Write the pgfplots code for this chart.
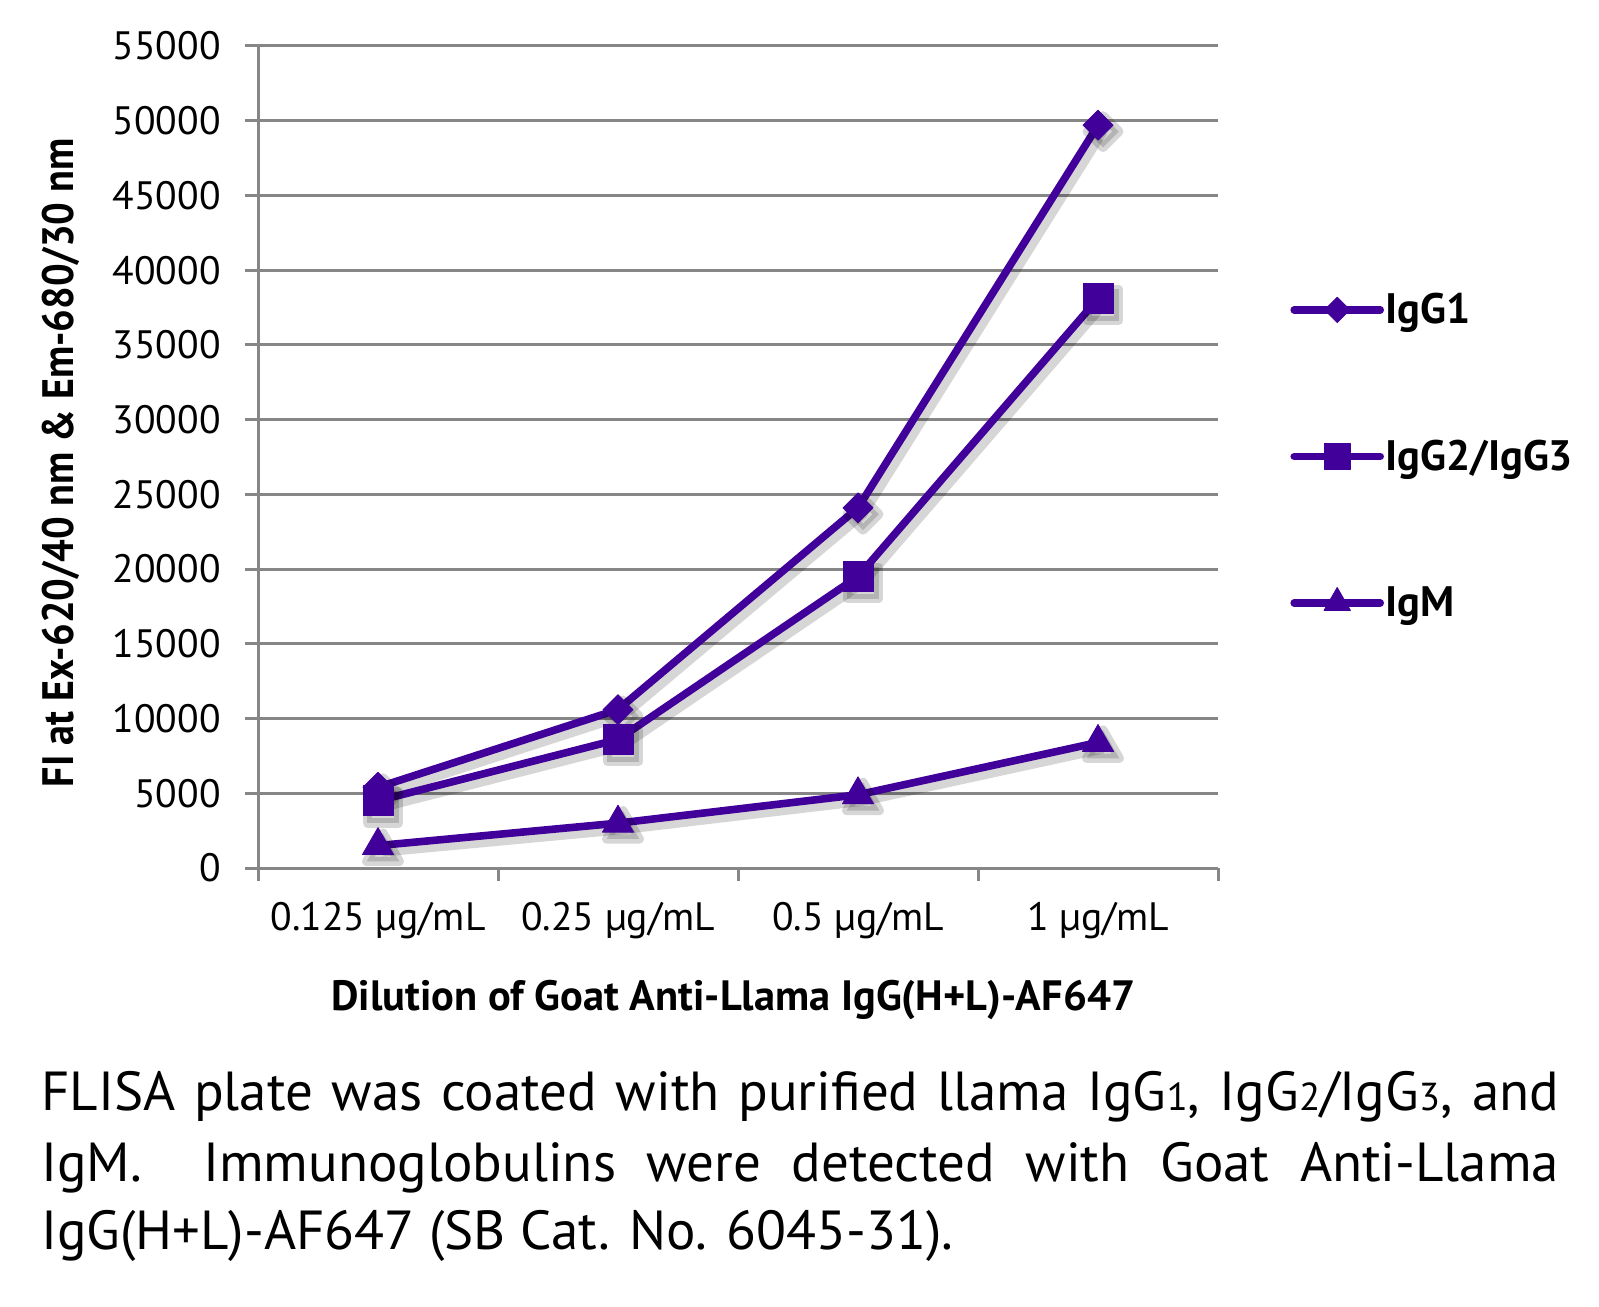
\documentclass[border=0pt]{standalone}
\usepackage{pgfplots}
\pgfplotsset{compat=1.18}
\usepackage{fontspec}
\setmainfont{PT Sans}
\definecolor{pur}{RGB}{64,0,153}
\definecolor{gridg}{RGB}{134,134,134}
\newcommand\sub[1]{{\fontsize{19.5}{20}\selectfont #1}}

\pgfplotstableread{
x igga iggb igm
0 5400 4500 1500
1 10600 8600 3000
2 24100 19500 4900
3 49700 38100 8400
}\datatab

\begin{document}
\begin{tikzpicture}[x=1pt,y=1pt]
\path[use as bounding box] (0,0) rectangle (799.5,653);
\begin{axis}[
  at={(129pt,219pt)}, anchor=south west,
  scale only axis, width=480pt, height=411pt,
  xmin=-0.5, xmax=3.5, ymin=0, ymax=55000,
  axis x line=bottom, axis y line=left,
  axis line style={-, draw=gridg, line width=1.5pt},
  xtick={0,1,2,3},
  xticklabels={0.125 µg/mL, 0.25 µg/mL, 0.5 µg/mL, 1 µg/mL},
  xtick style={draw=none},
  extra x ticks={-0.5,0.5,1.5,2.5,3.5},
  extra x tick labels={},
  extra x tick style={xtick style={draw=gridg, line width=1.5pt}},
  ytick={0,5000,...,55000},
  ytick style={draw=gridg, line width=1.5pt},
  tick align=outside, major tick length=6.5pt,
  ymajorgrids, major grid style={draw=gridg, line width=1.5pt},
  /pgf/number format/assume math mode=true,
  /pgf/number format/1000 sep={},
  scaled y ticks=false,
  yticklabel style={font=\fontsize{19.8}{21}\selectfont, anchor=east, inner sep=0pt, xshift=-12pt},
  xticklabel style={font=\fontsize{19.8}{21}\selectfont, anchor=center, inner sep=0pt, yshift=-20pt},
  ylabel={\scalebox{0.91}[1]{\bfseries FI at Ex-620/40 nm \& Em-680/30 nm}},
  ylabel style={at={(axis description cs:-0.205,0.493)}, anchor=center, font=\fontsize{22}{24}\selectfont},
  xlabel={\bfseries Dilution of Goat Anti-Llama IgG(H+L)-AF647},
  xlabel style={at={(axis description cs:0.495,-0.161)}, anchor=center, font=\fontsize{21.2}{23}\selectfont},
  clip=false,
  legend cell align=left,
  legend style={at={(axis description cs:1.075,0.501)}, anchor=west, draw=none, fill=none,
    font=\bfseries\fontsize{21.3}{22}\selectfont, row sep=55pt, inner sep=0pt,
    nodes={inner sep=0.8pt}},
  legend image code/.code={
    \draw[mark repeat=2,mark phase=2,#1,every mark/.append style={scale=0.85}]
      plot coordinates {(0pt,0pt) (21.5pt,0pt) (43pt,0pt)};
  },
]
% shadows
\addplot[forget plot, draw=black, opacity=0.16, line width=4.6pt, line join=round,
  xshift=2.5pt, yshift=-3.2pt, mark=square*, mark size=5.6pt,
  mark options={rotate=45, fill=black, draw=none}] table[x=x,y=igga]{\datatab};
\addplot[forget plot, draw=black, opacity=0.16, line width=4.6pt, line join=round,
  xshift=2.5pt, yshift=-3.2pt, mark=square*, mark size=7.9pt,
  mark options={fill=black, draw=none}] table[x=x,y=iggb]{\datatab};
\addplot[forget plot, draw=black, opacity=0.16, line width=4.6pt, line join=round,
  xshift=2.5pt, yshift=-3.2pt, mark=triangle*, mark size=9.4pt,
  mark options={fill=black, draw=none}] table[x=x,y=igm]{\datatab};
% data
\addplot[draw=pur, line width=3.8pt, line join=round, line cap=round, mark=square*, mark size=5.3pt,
  mark options={solid, rotate=45, fill=pur, draw=pur, line width=0.4pt}] table[x=x,y=igga]{\datatab};
\addlegendentry{IgG1}
\addplot[draw=pur, line width=3.8pt, line join=round, line cap=round, mark=square*, mark size=7.5pt,
  mark options={solid, fill=pur, draw=pur, line width=0.4pt}] table[x=x,y=iggb]{\datatab};
\addlegendentry{IgG2/IgG3}
\addplot[draw=pur, line width=3.8pt, line join=round, line cap=round, mark=triangle*, mark size=9pt,
  mark options={solid, fill=pur, draw=pur, line width=0.4pt}] table[x=x,y=igm]{\datatab};
\addlegendentry{IgM}
\end{axis}
\node[anchor=base west, inner sep=0pt] at (20.4,98) {\fontsize{27.5}{35.5}\selectfont\makebox[759pt][s]{FLISA plate was coated with purified llama IgG\sub{1}, IgG\sub{2}/IgG\sub{3}, and}};
\node[anchor=base west, inner sep=0pt] at (20.4,62.5) {\fontsize{27.5}{35.5}\selectfont\makebox[759pt][s]{IgM.\ \ Immunoglobulins were detected with Goat Anti-Llama}};
\node[anchor=base west, inner sep=0pt] at (20.4,28.5) {\fontsize{27.5}{35.5}\selectfont IgG(H+L)-AF647 (SB Cat. No. 6045-31).};
\end{tikzpicture}
\end{document}
